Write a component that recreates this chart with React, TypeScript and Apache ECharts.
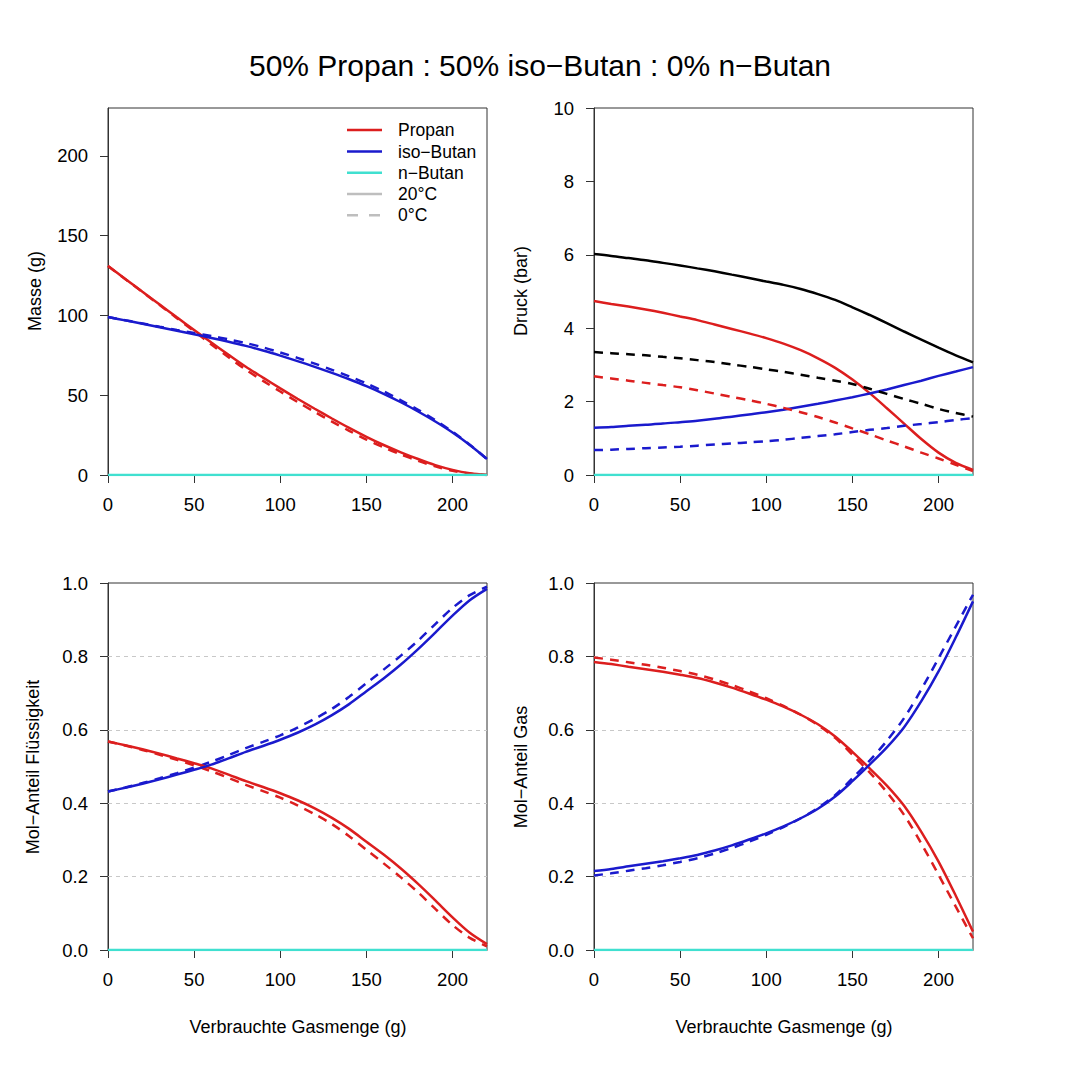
import React, { useEffect, useRef } from "react";
import * as echarts from "echarts";

// x positions (Verbrauchte Gasmenge, g)
const X = [0, 10, 20, 30, 40, 50, 60, 70, 80, 90, 100, 110, 120, 130, 140, 150, 160, 170, 180, 190, 200, 210, 220];

// Masse (g)
const massePropan20 = [131, 122.9, 114.8, 106.8, 98.8, 90.9, 83.0, 75.3, 67.8, 61.0, 54.3, 47.8, 41.5, 35.4, 29.5, 23.9, 18.8, 14.2, 10.0, 6.2, 3.2, 1.1, 0];
const masseIso20 = [99, 96.9, 94.8, 92.6, 90.4, 88.2, 85.9, 83.5, 80.9, 78.0, 74.8, 71.4, 67.8, 64.0, 60.0, 55.7, 50.9, 45.6, 39.8, 33.5, 26.6, 18.8, 10];
const massePropan0 = [131, 122.8, 114.6, 106.5, 98.3, 90.1, 81.8, 73.8, 66.0, 59.0, 52.3, 45.8, 39.5, 33.5, 27.7, 22.2, 17.3, 12.9, 8.9, 5.4, 2.7, 0.9, 0];
const masseIso0 = [99, 97.0, 95.0, 92.9, 90.9, 89.0, 87.1, 85.0, 82.7, 80.0, 76.8, 73.4, 69.8, 65.9, 61.8, 57.4, 52.4, 46.8, 40.9, 34.3, 27.1, 19.0, 10];
const masseN = [0, 0, 0, 0, 0, 0, 0, 0, 0, 0, 0, 0, 0, 0, 0, 0, 0, 0, 0, 0, 0, 0, 0];

// Druck (bar)
const druckTotal20 = [6.02, 5.97, 5.91, 5.85, 5.78, 5.71, 5.63, 5.55, 5.46, 5.37, 5.27, 5.18, 5.07, 4.93, 4.77, 4.57, 4.36, 4.14, 3.91, 3.69, 3.47, 3.26, 3.07];
const druckPropan20 = [4.74, 4.66, 4.59, 4.51, 4.42, 4.32, 4.22, 4.1, 3.98, 3.86, 3.73, 3.58, 3.4, 3.18, 2.92, 2.6, 2.23, 1.82, 1.4, 0.98, 0.61, 0.33, 0.14];
const druckIso20 = [1.29, 1.31, 1.34, 1.37, 1.4, 1.44, 1.48, 1.53, 1.59, 1.65, 1.71, 1.78, 1.86, 1.94, 2.03, 2.12, 2.22, 2.33, 2.45, 2.57, 2.7, 2.82, 2.94];
const druckTotal0 = [3.35, 3.32, 3.29, 3.26, 3.22, 3.18, 3.13, 3.08, 3.01, 2.95, 2.88, 2.81, 2.73, 2.65, 2.57, 2.48, 2.35, 2.21, 2.07, 1.94, 1.8, 1.69, 1.59];
const druckPropan0 = [2.69, 2.63, 2.57, 2.51, 2.45, 2.39, 2.31, 2.22, 2.13, 2.04, 1.94, 1.83, 1.71, 1.58, 1.43, 1.27, 1.11, 0.94, 0.78, 0.61, 0.45, 0.28, 0.11];
const druckIso0 = [0.68, 0.69, 0.71, 0.73, 0.75, 0.77, 0.8, 0.83, 0.86, 0.89, 0.92, 0.96, 1.01, 1.06, 1.11, 1.17, 1.23, 1.28, 1.34, 1.39, 1.44, 1.5, 1.55];
const druckN = [0, 0, 0, 0, 0, 0, 0, 0, 0, 0, 0, 0, 0, 0, 0, 0, 0, 0, 0, 0, 0, 0, 0];

// Mol-Anteil Flüssigkeit
const flPropan20 = [0.568, 0.558, 0.547, 0.535, 0.522, 0.509, 0.495, 0.478, 0.46, 0.444, 0.427, 0.408, 0.386, 0.36, 0.33, 0.295, 0.26, 0.222, 0.18, 0.135, 0.089, 0.047, 0.016];
const flIso20 = [0.432, 0.442, 0.453, 0.465, 0.478, 0.491, 0.505, 0.522, 0.54, 0.556, 0.573, 0.592, 0.614, 0.64, 0.67, 0.705, 0.74, 0.778, 0.82, 0.865, 0.911, 0.953, 0.984];
const flPropan0 = [0.568, 0.557, 0.545, 0.532, 0.518, 0.503, 0.487, 0.469, 0.45, 0.433, 0.415, 0.394, 0.37, 0.343, 0.31, 0.273, 0.236, 0.198, 0.157, 0.112, 0.068, 0.033, 0.01];
const flIso0 = [0.432, 0.443, 0.455, 0.468, 0.482, 0.497, 0.513, 0.531, 0.55, 0.567, 0.585, 0.606, 0.63, 0.657, 0.69, 0.727, 0.764, 0.802, 0.843, 0.888, 0.932, 0.967, 0.99];
const flN = [0, 0, 0, 0, 0, 0, 0, 0, 0, 0, 0, 0, 0, 0, 0, 0, 0, 0, 0, 0, 0, 0, 0];

// Mol-Anteil Gas
const gasPropan20 = [0.785, 0.779, 0.772, 0.765, 0.758, 0.75, 0.741, 0.729, 0.715, 0.699, 0.682, 0.663, 0.641, 0.615, 0.582, 0.54, 0.495, 0.448, 0.393, 0.322, 0.241, 0.148, 0.05];
const gasIso20 = [0.215, 0.221, 0.228, 0.235, 0.242, 0.25, 0.259, 0.271, 0.285, 0.301, 0.318, 0.337, 0.359, 0.385, 0.418, 0.46, 0.505, 0.552, 0.607, 0.678, 0.759, 0.852, 0.95];
const gasPropan0 = [0.797, 0.791, 0.784, 0.777, 0.769, 0.76, 0.75, 0.737, 0.722, 0.705, 0.686, 0.665, 0.641, 0.613, 0.578, 0.532, 0.484, 0.43, 0.368, 0.29, 0.205, 0.118, 0.032];
const gasIso0 = [0.203, 0.209, 0.216, 0.223, 0.231, 0.24, 0.25, 0.263, 0.278, 0.295, 0.314, 0.335, 0.359, 0.387, 0.422, 0.468, 0.516, 0.57, 0.632, 0.71, 0.795, 0.882, 0.968];
const gasN = [0, 0, 0, 0, 0, 0, 0, 0, 0, 0, 0, 0, 0, 0, 0, 0, 0, 0, 0, 0, 0, 0, 0];

const xTicks = [0, 50, 100, 150, 200];
const masseTicks = [0, 50, 100, 150, 200];
const fractionGridLines = [0.2, 0.4, 0.6, 0.8];

const TITLE = "50% Propan : 50% iso\u2212Butan : 0% n\u2212Butan";
const legendItems = ["Propan", "iso\u2212Butan", "n\u2212Butan", "20°C", "0°C"];

const RED = "#dc1e1e";
const BLUE = "#1a1acd";
const CYAN = "#40e0d0";
const BLACK = "#000000";
const GRAY = "#bebebe";
const FONT = "'Liberation Sans', Arial, Helvetica, sans-serif";

export default function App() {
  const ref = useRef<HTMLDivElement>(null);

  useEffect(() => {
    document.body.style.margin = "0";
    if (!ref.current) return;
    const chart = echarts.init(ref.current, undefined, { renderer: "svg" });

    const grids = [
      { left: 108, top: 108, width: 379, height: 367 },
      { left: 594, top: 108, width: 379, height: 367 },
      { left: 108, top: 583, width: 379, height: 367 },
      { left: 594, top: 583, width: 379, height: 367 },
    ].map((g) => ({ ...g, show: true, borderColor: "#333", borderWidth: 1, backgroundColor: "transparent" }));

    const axisCommon = {
      axisLine: { show: true, lineStyle: { color: "#333", width: 1 } },
      axisTick: { show: true, length: 8, lineStyle: { color: "#333", width: 1 } },
      axisLabel: { fontSize: 18.5, color: "#000", margin: 20, fontFamily: FONT },
    };

    const xAxes = [0, 1, 2, 3].map((i) => ({
      gridIndex: i,
      type: "value",
      min: 0,
      max: 220,
      ...axisCommon,
      axisTick: { ...axisCommon.axisTick, customValues: xTicks },
      axisLabel: { ...axisCommon.axisLabel, customValues: xTicks },
      splitLine: { show: false },
    }));

    const yAxes: any[] = [
      {
        gridIndex: 0, type: "value", min: 0, max: 230, ...axisCommon,
        axisTick: { ...axisCommon.axisTick, customValues: masseTicks },
        axisLabel: { ...axisCommon.axisLabel, customValues: masseTicks },
        splitLine: { show: false },
      },
      {
        gridIndex: 1, type: "value", min: 0, max: 10, interval: 2, ...axisCommon,
        splitLine: { show: false },
      },
      {
        gridIndex: 2, type: "value", min: 0, max: 1, interval: 0.2, ...axisCommon,
        axisLabel: { ...axisCommon.axisLabel, formatter: (v: number) => v.toFixed(1) },
        splitLine: { show: false },
      },
      {
        gridIndex: 3, type: "value", min: 0, max: 1, interval: 0.2, ...axisCommon,
        axisLabel: { ...axisCommon.axisLabel, formatter: (v: number) => v.toFixed(1) },
        splitLine: { show: false },
      },
    ];

    const mk = (name: string, gi: number, arr: number[], color: string, dashed: boolean, extra: any = {}) => ({
      name,
      type: "line",
      xAxisIndex: gi,
      yAxisIndex: gi,
      data: X.map((x, i) => [x, arr[i]]),
      showSymbol: false,
      symbol: "none",
      smooth: 0.3,
      lineStyle: { color, width: 2.5, type: dashed ? [9, 7] : "solid" },
      itemStyle: { color },
      z: 3,
      ...extra,
    });

    const gridMark = {
      markLine: {
        silent: true,
        symbol: "none",
        label: { show: false },
        lineStyle: { color: "#c8c8c8", type: [4, 4], width: 1 },
        data: fractionGridLines.map((v) => ({ yAxis: v })),
        z: 1,
      },
    };

    const series = [
      mk("Propan 0°C", 0, massePropan0, RED, true),
      mk("iso 0°C", 0, masseIso0, BLUE, true),
      mk("Propan 20°C", 0, massePropan20, RED, false),
      mk("iso 20°C", 0, masseIso20, BLUE, false),
      mk("n-Butan", 0, masseN, CYAN, false),

      mk("Gesamt 20°C", 1, druckTotal20, BLACK, false),
      mk("Propan 20°C", 1, druckPropan20, RED, false),
      mk("iso 20°C", 1, druckIso20, BLUE, false),
      mk("Gesamt 0°C", 1, druckTotal0, BLACK, true),
      mk("Propan 0°C", 1, druckPropan0, RED, true),
      mk("iso 0°C", 1, druckIso0, BLUE, true),
      mk("n-Butan", 1, druckN, CYAN, false),

      mk("Propan 0°C", 2, flPropan0, RED, true),
      mk("iso 0°C", 2, flIso0, BLUE, true),
      mk("Propan 20°C", 2, flPropan20, RED, false),
      mk("iso 20°C", 2, flIso20, BLUE, false),
      mk("n-Butan", 2, flN, CYAN, false, gridMark),

      mk("Propan 0°C", 3, gasPropan0, RED, true),
      mk("iso 0°C", 3, gasIso0, BLUE, true),
      mk("Propan 20°C", 3, gasPropan20, RED, false),
      mk("iso 20°C", 3, gasIso20, BLUE, false),
      mk("n-Butan", 3, gasN, CYAN, false, gridMark),
    ];

    const txt = (text: string, x: number, y: number, size: number, rotate = 0, align = "center") => ({
      type: "text",
      x,
      y,
      rotation: rotate,
      style: { text, fontSize: size, fontFamily: FONT, fill: "#000", textAlign: align, textVerticalAlign: "middle" },
    });

    const legendRows = [130, 151.5, 172.8, 194, 215.3];
    const legendColors = [RED, BLUE, CYAN, GRAY, GRAY];
    const legendGraphics: any[] = [];
    legendItems.forEach((label, i) => {
      legendGraphics.push({
        type: "line",
        shape: { x1: 347, y1: legendRows[i], x2: 382, y2: legendRows[i] },
        style: { stroke: legendColors[i], lineWidth: 2.5, lineDash: i === 4 ? [11, 11] : null },
      });
      legendGraphics.push(txt(label, 398, legendRows[i], 17.5, 0, "left"));
    });

    chart.setOption({
      animation: false,
      backgroundColor: "#ffffff",
      grid: grids,
      xAxis: xAxes,
      yAxis: yAxes,
      series,
      graphic: [
        txt(TITLE, 540, 65, 30),
        txt("Masse (g)", 35, 291, 18, Math.PI / 2),
        txt("Druck (bar)", 521, 291, 18, Math.PI / 2),
        txt("Mol\u2212Anteil Flüssigkeit", 33, 767, 18, Math.PI / 2),
        txt("Mol\u2212Anteil Gas", 521, 767, 18, Math.PI / 2),
        txt("Verbrauchte Gasmenge (g)", 298, 1027, 18),
        txt("Verbrauchte Gasmenge (g)", 784, 1027, 18),
        ...legendGraphics,
      ],
    });

    return () => chart.dispose();
  }, []);

  return <div ref={ref} style={{ width: 1080, height: 1080 }} />;
}
